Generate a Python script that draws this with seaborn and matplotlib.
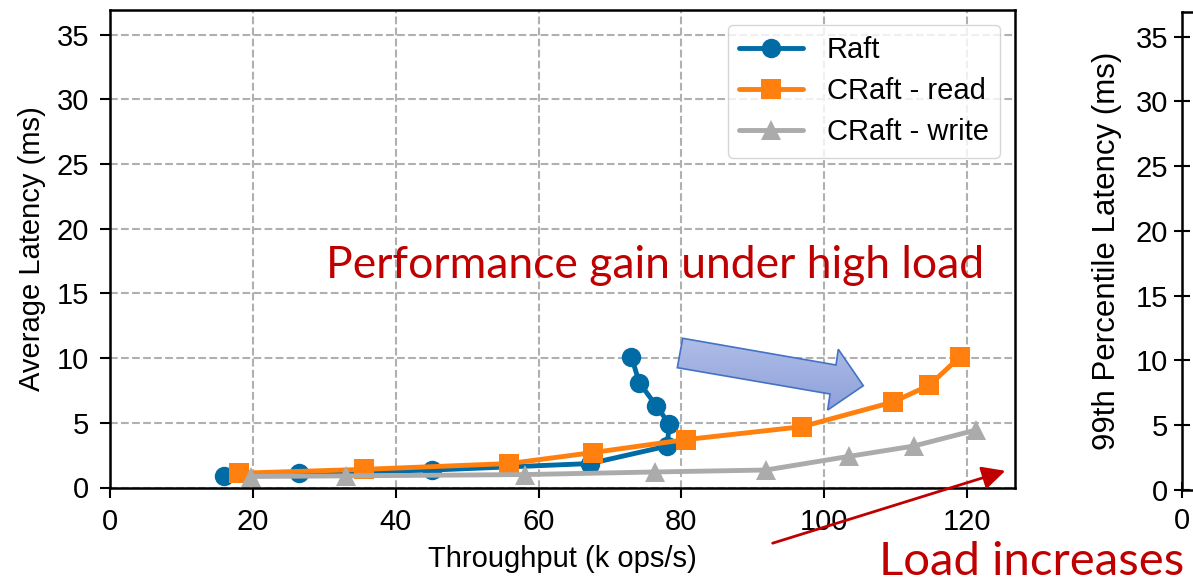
import matplotlib
matplotlib.use("Agg")
import matplotlib.pyplot as plt
import seaborn as sns
import pandas as pd
import numpy as np
from matplotlib.patches import Polygon, FancyArrowPatch

# values (throughput in k ops/s, latency in ms)
raft_x = [16.0, 26.4, 45.1, 67.2, 78.0, 78.3, 76.5, 74.1, 73.0]
raft_y = [0.9, 1.1, 1.35, 1.85, 3.2, 4.9, 6.3, 8.1, 10.1]
read_x = [18.0, 35.5, 55.9, 67.6, 80.6, 96.9, 109.6, 114.7, 119.0]
read_y = [1.1, 1.4, 1.85, 2.7, 3.7, 4.7, 6.6, 7.9, 10.1]
write_x = [19.8, 33.1, 58.1, 76.3, 91.8, 103.4, 112.5, 121.3]
write_y = [0.85, 0.9, 1.0, 1.2, 1.35, 2.4, 3.2, 4.45]

series = ["Raft", "CRaft - read", "CRaft - write"]
colors = {"Raft": "#006BA4", "CRaft - read": "#FF800E", "CRaft - write": "#ABABAB"}
markers = {"Raft": "o", "CRaft - read": "s", "CRaft - write": "^"}
yticks = [0, 5, 10, 15, 20, 25, 30, 35]
xticks = [0, 20, 40, 60, 80, 100, 120]

sns.set_theme(style="whitegrid")
plt.rcParams['font.family'] = ['Liberation Sans', 'DejaVu Sans']
plt.rcParams['text.color'] = 'black'
plt.rcParams['axes.labelcolor'] = 'black'
FS = 21

df = pd.concat([
    pd.DataFrame({'x': raft_x, 'y': raft_y, 'system': series[0]}),
    pd.DataFrame({'x': read_x, 'y': read_y, 'system': series[1]}),
    pd.DataFrame({'x': write_x, 'y': write_y, 'system': series[2]}),
], ignore_index=True)

W, H = 1193, 587
fig = plt.figure(figsize=(W / 100, H / 100), dpi=100)
ax = fig.add_axes([110 / W, 1 - 487.5 / H, 905 / W, 477.5 / H])

for name in series:
    sub = df[df['system'] == name]
    sns.lineplot(data=sub, x='x', y='y', ax=ax, sort=False, color=colors[name],
                 marker=markers[name], markersize=14, markeredgewidth=0,
                 linewidth=3.5, label=name, estimator=None)

ax.set_xlim(0, 126.7)
ax.set_ylim(0, 36.9)
ax.set_xticks(xticks)
ax.set_yticks(yticks)
ax.set_xlabel('Throughput (k ops/s)', fontsize=FS, labelpad=6)
ax.set_ylabel('Average Latency (ms)', fontsize=FS, labelpad=8)
ax.tick_params(axis='both', labelsize=FS, direction='out', length=7, width=1.5, pad=8,
               colors='black', left=True, bottom=True)
ax.grid(True, linestyle='--', color='#b0b0b0', linewidth=1.5)
for s in ax.spines.values():
    s.set_color('black')
    s.set_linewidth(1.8)

leg = ax.legend(loc='upper right', fontsize=FS, frameon=True, fancybox=True, framealpha=0.8,
                edgecolor='#cccccc', handlelength=2.2, borderpad=0.4, labelspacing=0.45)
for t in leg.get_texts():
    t.set_color('black')

# second (cut-off) panel at the right edge
ax2 = fig.add_axes([1182 / W, 1 - 490 / H, 700 / W, 478 / H])
ax2.set_xlim(0, 126.7)
ax2.set_ylim(0, 36.9)
ax2.set_yticks(yticks)
ax2.set_xticks([0])
ax2.set_ylabel('99th Percentile Latency (ms)', fontsize=22.5, labelpad=10)
ax2.tick_params(axis='both', labelsize=FS, direction='inout', length=12, width=1.5, pad=4,
                colors='black', left=True, bottom=True)
ax2.tick_params(axis='x', pad=6)
ax2.grid(True, linestyle='--', color='#b0b0b0', linewidth=1.5)
for s in ax2.spines.values():
    s.set_color('black')
    s.set_linewidth(1.8)

# overlay in pixel coordinates for annotations
ov = fig.add_axes([0, 0, 1, 1], zorder=5)
ov.set_xlim(0, W)
ov.set_ylim(H, 0)
ov.axis('off')

ov.text(655, 265, 'Performance gain under high load', color='#C00000',
        fontsize=32, family=['Lato', 'DejaVu Sans'], ha='center', va='center')
ov.text(1032, 562, 'Load increases', color='#C00000',
        fontsize=34, family=['Lato', 'DejaVu Sans'], ha='center', va='center')

arrow_shape = [(682.7, 338.3), (836, 365), (838.3, 349.3), (863.3, 385.7),
               (827.7, 410), (830, 394), (677.3, 367.7)]
poly = Polygon(arrow_shape, closed=True, facecolor='none', edgecolor='#4472C4', linewidth=1.2, zorder=3)
ov.add_patch(poly)
grad = np.linspace(0, 1, 100).reshape(-1, 1)
cmap = matplotlib.colors.LinearSegmentedColormap.from_list('blu', ['#B0BEE8', '#8C9FD8'])
img = ov.imshow(grad, cmap=cmap, extent=(670, 870, 415, 335), aspect='auto', zorder=2)
img.set_clip_path(poly)

ov.add_patch(FancyArrowPatch((770, 544), (1008, 470), arrowstyle='-|>,head_length=14,head_width=7',
                             color='#C00000', linewidth=2, mutation_scale=1))

fig.savefig('out.png', dpi=100)
